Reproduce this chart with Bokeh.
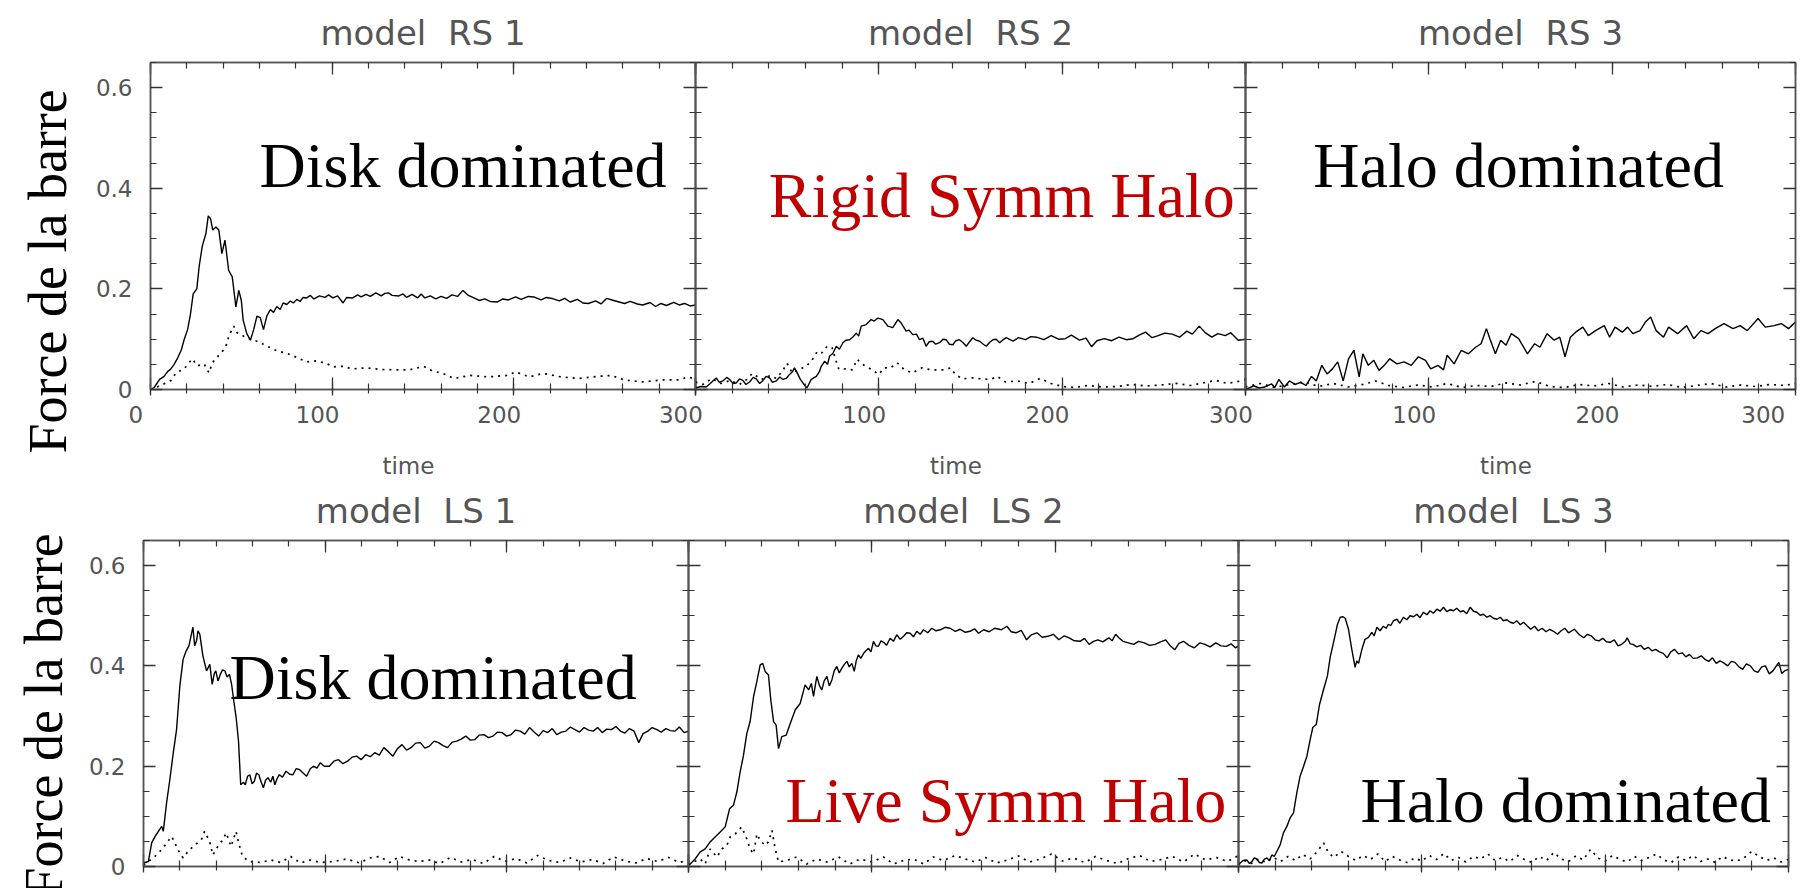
from bokeh.plotting import figure
from bokeh.models import Range1d, FixedTicker, LinearAxis, Label, Column, Title
from bokeh.embed import file_html
from bokeh.resources import INLINE

# ---------------- data ----------------
x_ticks = [0, 100, 200, 300]
y_ticks = [0, 0.2, 0.4, 0.6]
titles = ["model RS 1", "model RS 2", "model RS 3", "model LS 1", "model LS 2", "model LS 3"]
notes = ["Disk dominated", "Rigid Symm Halo", "Halo dominated",
         "Disk dominated", "Live Symm Halo", "Halo dominated"]
y_title = "Force de la barre"
x_title = "time"

rs1_t = [0,2,5,7.5,9.5,11,13,15,17,18.5,20.5,22,23.5,25.5,26.8,28.5,30.5,31.8,33,34.3,36,37.6,39.3,41,43,45,47,48.6,50,51,53,55,56.8,58.6,60.4,62.2,64,66,67.7,69.5,71.4,73,75,77,78.6,80.5,82.3,84,86,88,90,93,96,98,100.4,103,106,108,111.3,114,116,118.6,121,124,127,129,131,133,136.7,139,141,144,147,149,151,154,157,160,163,166,169,172,175,178,181,184,187,191,194,197,201,204,208,211,215,218,221,225,228,231,235,238,241,245,248,251,255,258,261,264,268,271,275,278,281,284,288,291,294,297,300]
rs1_f = [0,0.004,0.02,0.026,0.036,0.04,0.05,0.063,0.079,0.099,0.12,0.15,0.19,0.2,0.245,0.285,0.31,0.345,0.34,0.317,0.323,0.317,0.27,0.297,0.237,0.224,0.164,0.197,0.177,0.138,0.111,0.098,0.119,0.146,0.143,0.119,0.146,0.159,0.153,0.165,0.159,0.172,0.169,0.176,0.172,0.179,0.175,0.183,0.182,0.187,0.18,0.186,0.183,0.188,0.182,0.186,0.172,0.183,0.182,0.188,0.184,0.189,0.185,0.192,0.186,0.191,0.192,0.187,0.186,0.19,0.183,0.189,0.182,0.19,0.182,0.186,0.18,0.185,0.181,0.188,0.185,0.197,0.187,0.182,0.177,0.18,0.175,0.174,0.18,0.178,0.184,0.179,0.185,0.184,0.178,0.183,0.181,0.176,0.181,0.174,0.179,0.172,0.171,0.176,0.17,0.181,0.177,0.174,0.171,0.175,0.17,0.168,0.173,0.165,0.171,0.167,0.173,0.168,0.171,0.166,0.168]
rs1_dt = [0,2.2,6.7,11.3,14,18.5,23,25.8,29.5,32.2,34,37.6,41.3,43,45.8,47.6,51.3,54.9,58.6,62.2,65.9,69.5,75,80.4,85.9,91.3,96.8,100.4,106,111.3,118.6,125.9,135,142.3,150.4,155,161,167,176,186,196,201,208.5,216,226,236,246,253.6,261,271,281,291,296,300]
rs1_d = [0,0.003,0.01,0.018,0.033,0.041,0.061,0.047,0.051,0.033,0.053,0.068,0.083,0.105,0.126,0.113,0.106,0.1,0.096,0.09,0.083,0.077,0.072,0.064,0.055,0.057,0.052,0.045,0.046,0.041,0.043,0.04,0.039,0.039,0.046,0.037,0.032,0.022,0.028,0.025,0.028,0.035,0.025,0.032,0.025,0.022,0.026,0.028,0.019,0.015,0.019,0.019,0.025,0.02]

rs2_t = [0,3,5.8,8,9.5,11.3,13,14.9,17,18.6,20.5,22.2,24,25.8,27.5,29.5,31.5,33.1,35,36.8,38.5,40.4,42,44,46,47.7,49.5,51.3,53,54,55.9,57.2,58.6,60.8,62,63.1,65.9,67.5,68.6,70.4,72,73.1,75,76.8,78.5,80.4,82,84,86,87.7,89,90.4,93.1,95.8,97.5,99.5,102.2,104.9,107.6,110.4,112.2,114.9,116.5,118.5,120.5,122.2,124,125.8,127.5,129.4,131,133.1,135,136.7,138.5,140.4,142,144,146,147.7,149.5,151.3,153,155,157,158.6,160.5,162.2,164,165.9,167.5,169.5,171,173.2,175,176,180,183,186,190,194,198,201.7,205,209.5,213,216,219,223,227,231,235,238.7,242,245.5,249,252.4,256,260,264,268,271,274.8,278,281.6,285,289,292,296,300]
rs2_f = [0.003,0.006,0.005,0.012,0.017,0.023,0.014,0.017,0.024,0.02,0.012,0.013,0.021,0.018,0.01,0.015,0.024,0.021,0.012,0.018,0.026,0.023,0.014,0.017,0.025,0.02,0.022,0.03,0.036,0.043,0.03,0.02,0.013,0.003,0.012,0.02,0.026,0.035,0.046,0.056,0.05,0.066,0.072,0.086,0.08,0.093,0.098,0.099,0.105,0.112,0.106,0.126,0.129,0.139,0.136,0.142,0.139,0.126,0.123,0.139,0.132,0.116,0.118,0.109,0.11,0.099,0.102,0.086,0.095,0.096,0.09,0.093,0.1,0.099,0.09,0.089,0.097,0.099,0.093,0.086,0.095,0.103,0.098,0.096,0.09,0.086,0.094,0.099,0.1,0.093,0.098,0.103,0.1,0.096,0.1,0.103,0.099,0.105,0.104,0.099,0.107,0.1,0.101,0.108,0.098,0.102,0.085,0.097,0.101,0.097,0.104,0.099,0.101,0.108,0.114,0.103,0.107,0.112,0.11,0.104,0.116,0.11,0.126,0.113,0.104,0.111,0.107,0.113,0.098,0.1]
rs2_dt = [0,4,9,14,19,24,28,31,36,40.9,44,47.3,50,52.7,57,60.9,64.5,66.4,69,71.8,74.5,76.4,78.2,81.8,85.5,88.2,91,94.6,100,102.8,106.4,110,113.7,118.2,123.6,127.3,131,135.5,139.1,141.8,145.5,151,156.4,161,164.6,169.1,175.5,182,188,194,200,207,214,222,230,238,246,254,262,270,278,284,290,296,300]
rs2_d = [0.015,0.01,0.022,0.012,0.018,0.01,0.02,0.032,0.02,0.028,0.022,0.036,0.052,0.033,0.04,0.048,0.063,0.076,0.073,0.086,0.083,0.06,0.04,0.041,0.039,0.06,0.05,0.043,0.03,0.043,0.043,0.053,0.04,0.033,0.043,0.04,0.039,0.039,0.043,0.03,0.021,0.023,0.021,0.02,0.026,0.015,0.017,0.012,0.022,0.012,0.006,0.004,0.008,0.005,0.006,0.01,0.007,0.009,0.012,0.008,0.014,0.018,0.012,0.016,0.02]

rs3_t = [0,4.6,7.5,10.4,14.3,16,18.2,21.2,24,27,30,33,36,38.6,41.6,44.5,47.4,50.3,53.3,56.2,59.1,62,64,67,70,72.8,75.7,78.7,82.6,86.5,90.4,94.3,98.2,101,105,108,110,113.8,117.7,121.6,125.5,128.5,131.4,133.3,136.3,139.2,142.1,145,149,153.8,157.7,160.6,164.5,168.4,171.4,174.3,177.2,180.1,184,187,190.9,195.7,198.6,201.6,205.5,208.4,211.3,215.2,218.1,221,224,228,230.8,235.7,240.6,244.5,248.4,252.3,256.2,261,265.9,269.8,273.7,279.6,283.5,288.4,292.3,296.2,300]
rs3_f = [0,0.007,0.003,0.005,0.011,0.004,0.02,0.005,0.017,0.01,0.014,0.008,0.026,0.017,0.048,0.031,0.041,0.055,0.017,0.061,0.078,0.025,0.071,0.048,0.058,0.038,0.048,0.061,0.051,0.055,0.048,0.065,0.058,0.041,0.048,0.039,0.068,0.051,0.078,0.071,0.084,0.091,0.121,0.101,0.071,0.098,0.088,0.111,0.101,0.071,0.091,0.084,0.111,0.098,0.104,0.065,0.104,0.114,0.124,0.107,0.117,0.127,0.104,0.124,0.114,0.124,0.111,0.117,0.134,0.144,0.117,0.104,0.124,0.111,0.127,0.101,0.117,0.111,0.121,0.131,0.121,0.127,0.117,0.141,0.124,0.127,0.131,0.121,0.134]
rs3_dt = [0,8,16,24,32,40,48,56,64,71,78,86,94,102,110,118,126,134,142,150,158,166,174,182,190,198,206,214,222,230,238,246,254,262,270,278,286,294,300]
rs3_d = [0.005,0.012,0.004,0.01,0.015,0.006,0.012,0.005,0.01,0.017,0.008,0.004,0.009,0.005,0.012,0.004,0.008,0.006,0.013,0.009,0.016,0.006,0.004,0.01,0.007,0.012,0.005,0.009,0.006,0.01,0.004,0.008,0.012,0.005,0.009,0.006,0.01,0.008,0.012]

ls1_t = [0,2.7,4.5,6.4,8.2,10,10.9,12.7,14.5,16.4,18.2,20,21.8,23.5,25,27.2,28.2,29.2,30,31,32.7,34.7,36.5,37.8,39,39.8,41,42.3,43.5,44.8,46,47.3,48.5,49.7,51,52.3,53.5,55,56,57.3,58.5,59.8,61,62.2,63.5,64.8,66,67.2,68.5,70,71.2,72.3,73.5,74.8,76.5,78.5,80.5,82.3,84,86,88,89.8,91.8,93.6,95.5,97.3,99.5,102.3,104.8,107.3,109.8,112.3,114.8,117.3,119.8,122.3,124.8,127.3,129.8,132.3,134.8,137.3,139.8,142.3,144.8,147.3,149.8,152.4,154.9,157.4,159.9,162.4,164.9,167.4,169.9,172.4,174.9,177.4,179.9,182.4,184.9,187.4,189.9,192.4,194.9,197.4,199.9,202.4,204.9,207.4,209.9,212.5,215,217.5,220,222.5,225,227.5,230,232.5,235,237.5,240,242.5,245,247.5,250,252.5,255,257.5,260,262.5,265,267.5,270,272.6,275,277.6,280,282.6,285,287.6,290,292.6,295,297.6,300]
ls1_f = [0.007,0.01,0.047,0.06,0.07,0.08,0.07,0.127,0.173,0.227,0.273,0.36,0.413,0.43,0.44,0.477,0.44,0.45,0.47,0.463,0.42,0.39,0.403,0.363,0.385,0.39,0.37,0.383,0.392,0.39,0.378,0.383,0.363,0.33,0.297,0.25,0.163,0.168,0.163,0.18,0.183,0.165,0.17,0.186,0.183,0.168,0.157,0.172,0.177,0.168,0.18,0.163,0.175,0.183,0.178,0.19,0.184,0.183,0.195,0.193,0.186,0.18,0.195,0.2,0.196,0.207,0.2,0.2,0.21,0.213,0.205,0.21,0.218,0.22,0.213,0.223,0.219,0.227,0.222,0.237,0.229,0.22,0.235,0.243,0.232,0.237,0.246,0.247,0.236,0.24,0.25,0.247,0.241,0.237,0.248,0.25,0.254,0.26,0.252,0.253,0.262,0.263,0.257,0.26,0.268,0.267,0.26,0.263,0.272,0.27,0.264,0.277,0.268,0.26,0.271,0.267,0.275,0.263,0.268,0.27,0.278,0.273,0.268,0.277,0.272,0.27,0.277,0.267,0.274,0.273,0.279,0.27,0.266,0.275,0.27,0.247,0.265,0.27,0.277,0.273,0.268,0.275,0.271,0.27,0.278,0.267,0.27]
ls1_dt = [0,1.8,5.5,8.2,10.9,12.7,15.5,17.3,19,21.8,24.5,28.2,31.8,33.6,36.4,38.2,40.9,43.6,45.5,48.2,50.9,52.7,54.5,58.2,64.5,70,75.5,81,86.4,91.8,97.3,104.5,111.8,119,124.5,130,135.5,141,146.4,151.8,157.3,163,169,175,181,187,193,199,205,211,217,223,229,235,241,247,253,259,265,271,277,283,289,295,300]
ls1_d = [0.003,0.008,0.017,0.027,0.037,0.047,0.06,0.047,0.033,0.017,0.03,0.043,0.053,0.07,0.05,0.023,0.04,0.053,0.067,0.04,0.07,0.043,0.02,0.01,0.008,0.013,0.008,0.02,0.007,0.013,0.008,0.01,0.015,0.007,0.017,0.02,0.008,0.02,0.013,0.01,0.013,0.006,0.018,0.009,0.014,0.006,0.02,0.01,0.016,0.007,0.022,0.012,0.008,0.017,0.009,0.014,0.006,0.019,0.011,0.007,0.016,0.01,0.018,0.008,0.013]

ls2_t = [0,0.9,3.6,6.4,9.1,11.8,14.5,17.3,20,22.4,24.5,26.4,28.2,30,31.8,33.6,35.5,37.3,39.1,40.5,41.8,43.6,44.9,46.4,47.8,49.1,50.9,53.3,55.5,58.2,60.9,63.6,65.5,67,68.2,70,71.5,72.7,74,75.5,76.8,78.2,79.5,80.9,82.2,83.6,85,86.4,87.7,89.1,90.4,91.5,92.7,94,95.5,96.8,98.2,99.5,100.9,102.2,103.6,105,106.4,108,110,111.8,113.6,115.5,117.3,119,120.9,122.7,124.5,126.4,128.2,130.5,132.7,135,137.3,140,142.7,145.5,148.2,151,153.6,156,158.2,161,164,167,170.7,173.7,176,178.6,181.5,184.4,187,190,193,196,199,202,205,207.6,210.5,213.6,216,218.5,221,223.3,226,229.2,231,233,235,237,240,242.8,245.5,248.6,251.5,254.5,257.5,260.3,262.8,265.2,267.5,270,273,275.9,279,281.7,284.5,287.6,290.5,293.4,296,298.3,300]
ls2_f = [0.003,0.005,0.015,0.029,0.035,0.049,0.059,0.069,0.079,0.115,0.122,0.149,0.189,0.222,0.265,0.289,0.339,0.369,0.402,0.405,0.389,0.382,0.332,0.289,0.282,0.235,0.259,0.262,0.285,0.312,0.325,0.362,0.352,0.365,0.339,0.379,0.36,0.352,0.37,0.379,0.36,0.372,0.39,0.399,0.386,0.395,0.403,0.409,0.398,0.405,0.389,0.41,0.422,0.415,0.425,0.43,0.435,0.428,0.449,0.44,0.439,0.45,0.447,0.441,0.455,0.449,0.462,0.453,0.459,0.466,0.465,0.458,0.469,0.463,0.472,0.466,0.475,0.47,0.472,0.477,0.475,0.469,0.473,0.467,0.469,0.474,0.465,0.472,0.468,0.475,0.472,0.479,0.468,0.466,0.471,0.452,0.462,0.466,0.457,0.459,0.463,0.452,0.46,0.456,0.45,0.449,0.455,0.443,0.449,0.452,0.448,0.456,0.45,0.463,0.455,0.449,0.446,0.443,0.449,0.446,0.441,0.443,0.448,0.452,0.44,0.432,0.445,0.449,0.441,0.436,0.446,0.443,0.438,0.446,0.44,0.439,0.444,0.436,0.44]
ls2_dt = [0,2.7,6.4,9.1,11.8,15.5,18.2,20.9,22.7,25.5,29,31.8,33.6,35.5,37.3,39.1,41.8,43.6,45.5,47.3,49.1,53.6,59,64.5,70,75.5,81.8,88,93.6,100,106.4,111.8,117.3,122.7,128.2,133.6,139,145.5,151,156.4,162,168,174,180,186,192,198,204,210,216,222,228,234,240,246,252,258,264,270,276,282,288,294,300]
ls2_d = [0.003,0.009,0.015,0.005,0.035,0.019,0.035,0.042,0.059,0.065,0.079,0.055,0.035,0.025,0.065,0.052,0.042,0.049,0.072,0.035,0.009,0.012,0.019,0.005,0.015,0.009,0.019,0.005,0.015,0.009,0.019,0.005,0.012,0.015,0.005,0.019,0.012,0.022,0.015,0.009,0.018,0.007,0.013,0.021,0.009,0.015,0.025,0.011,0.017,0.008,0.02,0.012,0.006,0.016,0.022,0.01,0.014,0.02,0.009,0.025,0.013,0.018,0.01,0.022]

ls3_t = [0,0.9,2.5,4.5,6,7.3,8.6,10,11.4,12.7,14,15.5,16.8,18.2,19.5,20.9,22.7,24.5,26.4,28.2,30,31.8,33.6,35.5,37.3,39.1,40.5,42.4,44.2,46.4,48.5,50,52.2,54,55.5,57,58.2,60,61.8,63.6,64.5,65.5,67.3,69,70.9,72.7,74,75.5,77.2,79,80.5,81.8,83,84.5,86.4,88,90,91.8,93.6,95.5,97.3,99,100.9,102.8,104.5,106.3,108.2,110,111.8,113.7,115.5,117.3,119,121,122.7,124.5,126.4,128.2,130,131.8,133.6,135.5,137.3,139,141,142.8,144.5,146.4,148.2,150,151.8,153.7,155.5,157.4,159.4,161.5,163.5,165.6,167.7,169.8,171.8,174,176,178,180,183.2,186,188.3,190.4,192.4,194.5,196.6,198.7,200.7,202.7,205,207,209,211,212,213.7,215.2,217.3,219.3,221.3,223.5,225.5,227.5,229.6,231.7,233.8,235.8,237.8,240,242,244,246,248,250.3,252.4,254.4,256.5,258.5,260.6,262.6,264.7,266.8,268.8,270.8,273,275,277,279.2,281.3,283.3,285.4,287.4,289.5,291.5,293,294.7,296.3,297.8,300]
ls3_f = [0.005,0.007,0.012,0.013,0.006,0.01,0.017,0.015,0.008,0.007,0.014,0.017,0.012,0.023,0.02,0.03,0.043,0.067,0.08,0.097,0.107,0.147,0.18,0.2,0.22,0.253,0.277,0.283,0.323,0.353,0.38,0.417,0.453,0.483,0.497,0.498,0.495,0.473,0.433,0.397,0.41,0.405,0.433,0.453,0.457,0.467,0.46,0.477,0.47,0.479,0.475,0.483,0.48,0.49,0.493,0.485,0.497,0.492,0.5,0.498,0.503,0.496,0.507,0.502,0.51,0.505,0.513,0.509,0.517,0.508,0.512,0.51,0.515,0.508,0.51,0.504,0.517,0.509,0.507,0.501,0.503,0.497,0.5,0.495,0.493,0.497,0.49,0.492,0.487,0.485,0.49,0.482,0.487,0.48,0.473,0.479,0.47,0.475,0.468,0.473,0.469,0.463,0.47,0.475,0.466,0.473,0.462,0.456,0.463,0.46,0.452,0.45,0.455,0.448,0.447,0.452,0.44,0.443,0.449,0.456,0.444,0.443,0.438,0.441,0.433,0.437,0.43,0.433,0.428,0.425,0.416,0.428,0.433,0.424,0.426,0.418,0.423,0.415,0.416,0.42,0.413,0.409,0.416,0.405,0.41,0.406,0.4,0.409,0.407,0.398,0.393,0.404,0.4,0.39,0.387,0.398,0.4,0.384,0.39,0.398,0.407,0.385,0.39,0.393]
ls3_dt = [0,3,7,11,15,19,23,27,31,35,39,43,46.4,49,52,56,60,64,68,72,76,80,84,88,92,96,100,104,108,112,116,120,124,128,132,136,140,144,148,152,156,160,164,168,172,176,180,184,188,192,196,200,204,208,212,216,220,224,228,232,236,240,244,248,252,256,260,264,268,272,276,280,284,288,292,296,300]
ls3_d = [0.004,0.012,0.006,0.015,0.008,0.018,0.01,0.02,0.012,0.024,0.015,0.03,0.047,0.028,0.018,0.03,0.02,0.012,0.022,0.014,0.025,0.01,0.02,0.013,0.008,0.017,0.011,0.022,0.014,0.026,0.012,0.018,0.009,0.02,0.015,0.025,0.012,0.018,0.01,0.022,0.014,0.008,0.02,0.012,0.028,0.015,0.01,0.021,0.013,0.034,0.017,0.011,0.022,0.014,0.009,0.02,0.012,0.018,0.025,0.013,0.008,0.019,0.012,0.022,0.01,0.015,0.008,0.02,0.013,0.011,0.018,0.03,0.02,0.012,0.017,0.009,0.014]

series = [(rs1_t, rs1_f, rs1_dt, rs1_d), (rs2_t, rs2_f, rs2_dt, rs2_d), (rs3_t, rs3_f, rs3_dt, rs3_d),
          (ls1_t, ls1_f, ls1_dt, ls1_d), (ls2_t, ls2_f, ls2_dt, ls2_d), (ls3_t, ls3_f, ls3_dt, ls3_d)]

# ---------------- layout ----------------
W, H = 1814, 888
frames = [(146, 695, 62, 389), (695, 1245, 62, 389), (1245, 1795, 62, 389),
          (138, 688, 540, 866), (688, 1238, 540, 866), (1238, 1788, 540, 866)]
note_pos = [(60, 0.445), (40, 0.386), (37, 0.445), (47.4, 0.376), (52.9, 0.132), (66.5, 0.132)]
note_col = ["#000000", "#c00000", "#000000", "#000000", "#c00000", "#000000"]

SANS = "DejaVu Sans"
SERIF = "Liberation Serif"
GREY = "#555555"
NB = "\u00a0"


def style(ax, mirror=False):
    ax.axis_line_color = GREY
    ax.axis_line_width = 1.5
    ax.major_tick_line_color = "#333333"
    ax.minor_tick_line_color = "#333333"
    ax.major_tick_line_width = 1.3
    ax.minor_tick_line_width = 1.2
    ax.major_label_text_font = SANS
    ax.major_label_text_font_size = "0px" if mirror else "23px"
    ax.major_label_text_color = GREY
    ax.axis_label_text_font_style = "normal"


panels = []
for i, ((l, r, t, b), (st, sf, dt, dv)) in enumerate(zip(frames, series)):
    top_row = i < 3
    p = figure(width=W, height=H, output_backend="svg", toolbar_location=None,
               x_range=Range1d(0, 300), y_range=Range1d(0, 0.65),
               x_axis_location=None, y_axis_location=None,
               min_border_left=l, min_border_right=W - r,
               min_border_top=t, min_border_bottom=H - b,
               background_fill_color=None, border_fill_color=None,
               outline_line_color=GREY, outline_line_width=1.5)
    p.frame_align = False
    p.xgrid.visible = False
    p.ygrid.visible = False
    if i > 0:
        p.margin = (-H, 0, 0, 0)

    # title (wide gap as in the picture)
    p.title.text = titles[i].replace(" ", NB + " ", 1)
    p.title.align = "center"
    p.title.text_font = SANS
    p.title.text_font_size = "34px"
    p.title.text_font_style = "normal"
    p.title.text_color = GREY
    p.title.standoff = 20

    xt = FixedTicker(ticks=x_ticks, minor_ticks=list(range(0, 301, 20)))
    yt = FixedTicker(ticks=y_ticks, minor_ticks=[k * 0.05 for k in range(14)])

    # bottom axis
    xb = LinearAxis(ticker=xt, major_tick_in=12, major_tick_out=6, minor_tick_in=6, minor_tick_out=4,
                    major_label_standoff=6)
    style(xb)
    if top_row:
        ov = {v: f"{v}{NB * 4}" for v in x_ticks}
        if i > 0:
            ov[0] = ""
        xb.axis_label = x_title + NB * 4
        xb.axis_label_text_font = SANS
        xb.axis_label_text_font_size = "23px"
        xb.axis_label_text_color = GREY
        xb.axis_label_standoff = 22
    else:
        ov = {v: "" for v in x_ticks}
    xb.major_label_overrides = ov
    p.add_layout(xb, "below")

    # top axis (mirror ticks)
    xa = LinearAxis(ticker=xt, major_tick_in=12, major_tick_out=0, minor_tick_in=6, minor_tick_out=0,
                    major_label_standoff=0, major_label_overrides={v: "" for v in x_ticks})
    style(xa, mirror=True)
    p.add_layout(xa, "above")

    # left axis
    yl = LinearAxis(ticker=yt, major_tick_in=12, major_tick_out=0, minor_tick_in=6, minor_tick_out=0,
                    major_label_standoff=18)
    style(yl)
    if i in (0, 3):
        yl.major_label_overrides = {0: "0"}
    else:
        yl.major_label_overrides = {v: "" for v in y_ticks}
        yl.major_label_standoff = 0
    p.add_layout(yl, "left")

    # big vertical y title; starts below the frame bottom as in the picture
    if i in (0, 3):
        p.add_layout(Title(text=y_title, align="left", text_font=SERIF, text_font_size="54px",
                           text_font_style="normal", text_color="black",
                           offset=-64 if i == 0 else -31, standoff=30 if i == 0 else 23), "left")

    # right axis (mirror ticks)
    yr = LinearAxis(ticker=yt, major_tick_in=12, major_tick_out=0, minor_tick_in=6, minor_tick_out=0,
                    major_label_standoff=0, major_label_overrides={v: "" for v in y_ticks})
    style(yr, mirror=True)
    p.add_layout(yr, "right")

    # data
    p.line(dt, dv, line_color="black", line_width=1.7, line_dash="2 5")
    p.line(st, sf, line_color="black", line_width=1.4)

    # annotation
    nx, ny = note_pos[i]
    p.add_layout(Label(x=nx, y=ny, text=notes[i], text_align="left", text_baseline="alphabetic",
                       text_font=SERIF, text_font_size="64px", text_color=note_col[i]))
    panels.append(p)

layout = Column(children=panels)

open("out.html", "w").write(file_html(layout, INLINE))
